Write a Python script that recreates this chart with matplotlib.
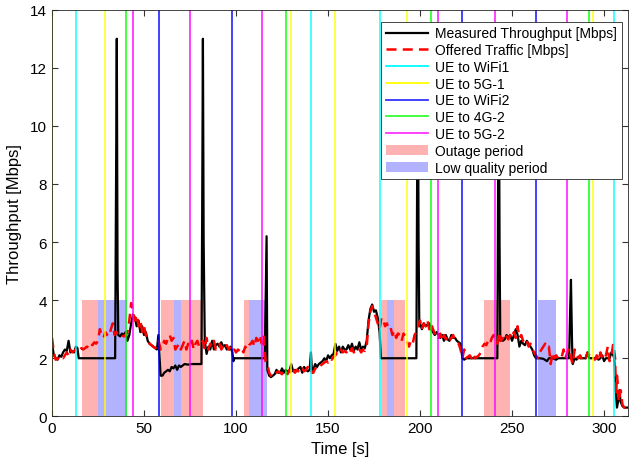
import numpy as np
import matplotlib
matplotlib.use('Agg')
import matplotlib.pyplot as plt
from matplotlib.patches import Patch
from matplotlib.lines import Line2D

plt.rcParams['font.family'] = ['Liberation Sans', 'DejaVu Sans']

# 实测吞吐量 (时间 s, Mbps)
meas_t = [0, 1, 2, 3, 4, 5, 6, 7, 8, 9, 10, 11, 12, 13, 13.8, 14.5, 34.3, 34.8, 35.2, 35.6,
          36, 37, 38, 39, 40, 41, 42, 43, 44, 45, 46, 47, 48, 49, 50, 51, 52, 53, 54, 55,
          56, 57, 57.8, 58.3, 59, 60, 61, 62, 63, 64, 65, 66, 67, 68, 69, 70, 71, 72, 74, 76,
          78, 80, 81.2, 81.6, 82, 82.4, 83, 84, 85, 86, 87, 88, 89, 90, 91, 92, 93, 94, 95, 96,
          96.5, 97, 98, 98.6, 99, 115.6, 116.1, 116.6, 117, 118, 119, 120, 121, 122, 123, 124,
          125, 126, 127, 128, 129, 130, 131, 132, 133, 134, 135, 136, 137, 138, 139, 140,
          140.7, 141.3, 142, 143, 144, 145, 146, 147, 148, 149, 150, 151, 152, 153, 154, 155,
          156, 157, 158, 159, 160, 161, 162, 163, 164, 165, 166, 167, 168, 169, 170, 171,
          172, 173, 174, 175, 176, 177, 178, 178.7, 198, 198.4, 198.8, 199.2, 199.6, 200,
          201, 202, 203, 204, 205, 206, 207, 208, 209, 210, 211, 212, 213, 214, 215, 216,
          217, 218, 219, 220, 221, 222, 223, 224, 225, 242, 242.4, 242.8, 243.2, 243.6, 244,
          245, 246, 247, 248, 249, 250, 251, 252, 253, 254, 255, 256, 257, 258, 259, 260,
          261, 262, 263, 265, 267, 269, 270, 272, 274, 275, 281, 281.5, 282, 282.6, 283,
          284, 285, 286, 287, 290, 291, 292, 296, 297, 298, 299, 300, 301, 303, 304, 305,
          305.5, 306.2, 307, 307.6, 308.3, 309, 310, 311, 314]
meas_v = [2.5, 2.1, 2.0, 1.95, 2.1, 2.05, 2.2, 2.3, 2.25, 2.6, 2.2, 2.25, 2.2, 2.4, 2.35, 2.0, 2.0, 8.0, 13.0, 5.0,
          2.8, 2.75, 2.85, 2.8, 2.9, 2.6, 2.8, 3.2, 3.5, 3.4, 3.1, 3.3, 2.9, 3.1, 2.8, 2.9, 2.6, 2.5, 2.45, 2.4,
          2.35, 2.3, 2.8, 2.2, 1.4, 1.4, 1.5, 1.55, 1.6, 1.55, 1.7, 1.65, 1.75, 1.6, 1.75, 1.7, 1.75, 1.8, 1.78, 1.8,
          1.8, 1.8, 1.8, 7.0, 13.0, 6.0, 2.6, 2.15, 2.4, 2.3, 2.6, 2.3, 2.45, 2.5, 2.4, 2.55, 2.4, 2.45, 2.3, 2.35,
          2.3, 2.4, 2.2, 1.9, 2.0, 2.0, 4.0, 6.2, 1.6, 1.4, 1.35, 1.4, 1.45, 1.6, 1.5, 1.5,
          1.65, 1.5, 1.6, 1.55, 1.55, 1.8, 1.55, 1.6, 1.55, 1.65, 1.7, 1.5, 1.7, 1.6, 1.55, 1.6,
          2.2, 1.5, 1.6, 1.8, 1.7, 1.8, 1.85, 1.9, 2.0, 1.9, 2.1, 2.0, 2.1, 2.15, 2.5, 2.25,
          2.4, 2.2, 2.4, 2.3, 2.3, 2.45, 2.3, 2.5, 2.25, 2.4, 2.3, 2.55, 2.3, 2.4, 2.35, 2.6,
          3.3, 3.7, 3.85, 3.6, 3.65, 3.4, 2.9, 2.0, 2.0, 8.0, 13.0, 6.0, 3.1, 3.2,
          3.0, 3.2, 3.1, 3.15, 3.2, 3.0, 2.9, 2.8, 2.9, 2.8, 2.7, 2.8, 2.6, 2.8, 2.65, 2.6,
          2.8, 2.7, 2.7, 2.6, 2.55, 2.5, 2.0, 1.95, 2.0, 2.0, 8.0, 13.0, 6.0, 2.6, 2.7,
          2.6, 2.65, 2.8, 2.7, 2.8, 2.6, 2.8, 3.0, 2.8, 2.4, 2.6, 2.5, 2.45, 2.6, 2.5, 2.4,
          2.3, 2.1, 2.0, 2.0, 1.98, 1.9, 2.0, 2.0, 1.95, 2.0, 2.0, 3.5, 4.7, 2.5, 1.8,
          2.0, 1.95, 2.05, 2.0, 2.0, 2.2, 2.0, 2.0, 1.95, 2.0, 2.1, 1.9, 2.0, 2.0, 2.2, 2.1,
          2.0, 1.0, 0.3, 0.5, 0.9, 0.5, 0.35, 0.3, 0.3]

# 业务负载 (时间 s, Mbps)
offer_t = list(range(0, 307)) + [306.5, 307, 307.5, 308, 309, 310, 311, 314]
offer_v = [2.7, 2.2, 1.95, 2.0, 1.95, 2.05, 2.0, 2.1, 2.2, 2.1, 2.3, 2.2, 2.25, 2.3, 2.2, 2.25, 2.35, 2.3, 2.35, 2.4,
           2.35, 2.5, 2.45, 2.55, 2.5, 2.6, 3.0, 2.8, 2.7, 2.9, 2.8, 2.75, 3.0, 3.2, 2.8, 2.9, 2.8, 2.85, 2.8, 2.75,
           2.8, 2.9, 3.3, 3.9, 3.6, 3.3, 3.5, 3.1, 3.3, 2.9, 3.1, 2.8, 2.7, 2.5, 2.45, 2.4, 2.35, 2.4, 2.6, 2.3,
           2.4, 2.6, 2.5, 2.7, 2.8, 2.6, 2.7, 2.3, 2.4, 2.5, 2.3, 2.45, 2.6, 2.3, 2.5, 2.4, 2.6, 2.3, 2.5, 2.6,
           2.4, 2.5, 2.6, 2.3, 2.7, 2.3, 2.5, 2.4, 2.6, 2.3, 2.4, 2.5, 2.3, 2.4, 2.3, 2.45, 2.3, 2.4, 2.25, 2.3,
           2.2, 2.3, 2.25, 2.35, 2.2, 2.4, 2.3, 2.45, 2.5, 2.6, 2.4, 2.7, 2.6, 2.8, 2.5, 2.8, 1.9, 1.8, 1.5, 1.4,
           1.35, 1.45, 1.5, 1.55, 1.5, 1.45, 1.6, 1.5, 1.45, 1.6, 1.5, 1.65, 1.5, 1.6, 1.55, 1.5, 1.65, 1.55, 1.6, 1.7,
           1.5, 1.55, 1.5, 1.65, 1.6, 1.7, 1.75, 1.8, 1.85, 1.9, 1.85, 2.0, 1.95, 2.05, 2.1, 2.2, 2.15, 2.3, 2.2, 2.25,
           2.2, 2.3, 2.2, 2.35, 2.2, 2.3, 2.25, 2.3, 2.2, 2.3, 2.25, 2.4, 3.2, 3.6, 3.8, 3.6, 3.4, 3.2, 3.0, 3.4,
           3.3, 3.1, 3.2, 3.0, 3.05, 2.8, 2.95, 2.7, 2.85, 2.8, 2.6, 2.85, 2.75, 2.55, 2.4, 2.6, 2.5, 2.8, 2.9, 3.1,
           3.3, 3.0, 3.2, 3.1, 3.3, 3.0, 3.2, 3.0, 2.85, 2.9, 2.7, 2.85, 2.6, 2.8, 2.65, 2.75, 2.6, 2.7, 2.8, 2.6,
           2.55, 2.5, 2.3, 2.0, 2.3, 2.0, 2.05, 2.1, 2.0, 2.15, 2.0, 2.05, 2.1, 2.2, 2.4, 2.5, 2.45, 2.6, 2.5, 2.7,
           2.8, 2.6, 2.5, 2.9, 2.6, 2.7, 2.6, 2.75, 2.65, 2.8, 2.7, 2.9, 2.7, 3.1, 2.7, 2.8, 2.6, 2.5, 2.6, 2.4,
           2.5, 2.3, 2.2, 2.1, 2.0, 2.2, 2.3, 2.4, 2.5, 2.35, 2.4, 1.8, 2.2, 2.0, 2.1, 2.0, 1.95, 2.05, 2.3, 2.0,
           2.2, 2.35, 2.0, 1.8, 2.3, 2.1, 2.0, 2.1, 1.95, 2.05, 2.0, 2.2, 2.1, 2.0, 2.0, 1.95, 2.1, 1.9, 2.2, 2.0,
           1.95, 2.1, 2.4, 1.9, 2.1, 2.5, 2.0,
           0.7, 1.4, 1.1, 0.5, 0.9, 0.4, 0.3, 0.3]

# 切换时刻 (s)
ho_wifi1 = [13, 140.8, 178.1, 305.6]
ho_5g1 = [0, 29, 129.7, 153.8, 192.9, 293.8]
ho_wifi2 = [58, 98, 222.8, 262.9]
ho_4g2 = [40, 127, 205.8, 291.8]
ho_5g2 = [44, 75, 114, 209.8, 240.9, 279.9]

# 中断 / 低质量时段 (起, 止)
outage = [(16.3, 25), (59.2, 66.1), (70.1, 82.1), (104.2, 107.2),
          (178.8, 182.2), (185.9, 191.8), (235, 248.7)]
low_quality = [(25, 40.6), (66.1, 70.1), (107.2, 116.8), (182.2, 185.9), (264, 273.7)]

fig = plt.figure(figsize=(6.29, 4.64), dpi=100)
ax = fig.add_axes([0.0827, 0.1006, 0.9157, 0.8763])

ax.plot(meas_t, meas_v, 'k-', linewidth=1.6)
ax.plot(offer_t, offer_v, color='r', linestyle=(0, (4, 2.5)), linewidth=1.8)

ho_sets = [(ho_wifi1, '#00ffff'), (ho_5g1, '#ffff00'), (ho_wifi2, '#0000ff'),
           (ho_4g2, '#00ff00'), (ho_5g2, '#ff00ff')]
for times, col in ho_sets:
    for t in times:
        ax.axvline(t, color=col, linewidth=1.3, alpha=0.8)

for a, b in outage:
    ax.fill_between([a, b], 0, 4, color='r', alpha=0.3, linewidth=0)
for a, b in low_quality:
    ax.fill_between([a, b], 0, 4, color='b', alpha=0.3, linewidth=0)

ax.set_xlim(0, 313)
ax.set_ylim(0, 14)
ax.set_xticks(np.arange(0, 301, 50))
ax.set_yticks(np.arange(0, 15, 2))
ax.tick_params(direction='in', top=True, right=True, labelsize=11, length=4, color='#333333')
for s in ax.spines.values():
    s.set_color('#262626')
    s.set_linewidth(0.6)
ax.set_xlabel('Time [s]', fontsize=12)
ax.set_ylabel('Throughput [Mbps]', fontsize=12, labelpad=6)

handles = [Line2D([], [], color='k', linewidth=1.6),
           Line2D([], [], color='r', linestyle=(0, (4, 2.5)), linewidth=1.8),
           Line2D([], [], color='#00ffff', linewidth=1.3),
           Line2D([], [], color='#ffff00', linewidth=1.3),
           Line2D([], [], color='#0000ff', linewidth=1.3, alpha=0.8),
           Line2D([], [], color='#00ff00', linewidth=1.3, alpha=0.8),
           Line2D([], [], color='#ff00ff', linewidth=1.3, alpha=0.8),
           Patch(facecolor='r', alpha=0.3, linewidth=0),
           Patch(facecolor='b', alpha=0.3, linewidth=0)]
labels = ['Measured Throughput [Mbps]', 'Offered Traffic [Mbps]', 'UE to WiFi1', 'UE to 5G-1',
          'UE to WiFi2', 'UE to 4G-2', 'UE to 5G-2', 'Outage period', 'Low quality period']
leg = ax.legend(handles, labels, loc='upper right', bbox_to_anchor=(0.989, 0.971),
                borderaxespad=0, fontsize=10, handlelength=3.0, labelspacing=0.2,
                fancybox=False, framealpha=1, edgecolor='#262626', borderpad=0.35, handletextpad=0.5)
leg.get_frame().set_linewidth(0.6)

fig.savefig('out.png', dpi=100)
